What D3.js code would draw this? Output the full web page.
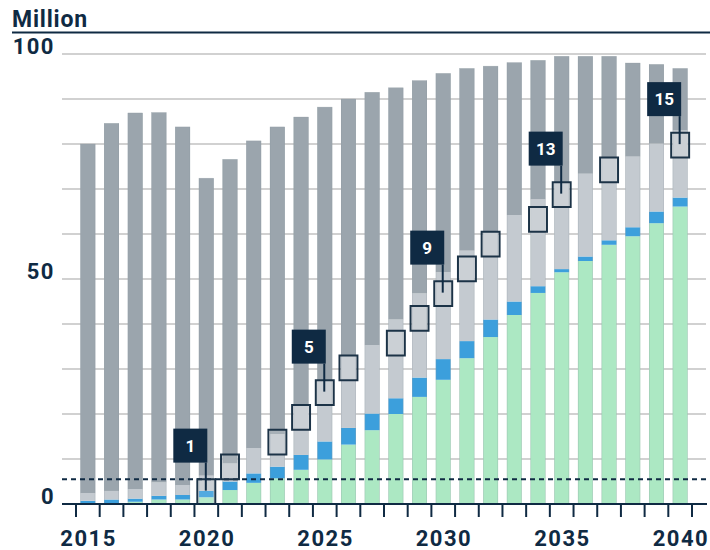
<!DOCTYPE html>
<html>
<head>
<meta charset="utf-8">
<script src="https://cdn.jsdelivr.net/npm/d3@7"></script>
<style>
    body { margin: 0; background: #fff; }
    text { font-family: Roboto, "Liberation Sans", sans-serif; }
</style>
</head>
<body>
<svg id="chart" width="710" height="550"></svg>
<script>
"use strict";

// Data (million), one value per year and segment
const years = d3.range(2015, 2041);
const green = [0, 0.2, 0.5, 1.0, 1.0, 1.5, 3.1, 4.7, 5.7, 7.6, 9.9, 13.2, 16.4, 20, 23.8, 27.6,
    32.4, 37.1, 42, 46.9, 51.5, 54, 57.6, 59.5, 62.4, 66.1];
const blue = [0.7, 0.8, 0.7, 0.8, 1.0, 1.4, 1.9, 2.1, 2.6, 3.3, 4.0, 3.7, 3.7, 3.5, 4.3, 4.6,
    3.8, 3.9, 3.0, 1.5, 0.7, 1.0, 1.0, 2.0, 2.6, 2.0];
const lightGray = [1.7, 1.9, 2.1, 3.0, 2.2, 3.4, 4.0, 5.6, 7.2, 11.1, 13.6, 16.1, 15.2, 17.5, 18.7, 19.3,
    20.1, 19.5, 19.2, 19.3, 19.3, 18.4, 18.4, 15.7, 15.1, 14.9];
const darkGray = [77.6, 81.7, 83.6, 82.2, 79.6, 66.1, 67.6, 68.3, 68.3, 64, 60.7, 57, 56.2, 51.5, 47.3, 44.2,
    40.5, 36.8, 33.9, 30.9, 28, 26.1, 22.5, 20.8, 17.6, 13.8];

// years that add one square, each square is one unit of this size
const squareYears = [2020, 2021, 2023, 2024, 2025, 2026, 2028, 2029, 2030, 2031, 2032, 2034, 2035, 2037, 2040];
const squareUnit = 5.5;
const calloutYears = [2020, 2025, 2030, 2035, 2040];
const calloutLabels = ["1", "5", "9", "13", "15"];

const yTicks = [0, 50, 100];
const yGrid = d3.range(0, 101, 10);
const yearLabels = [2015, 2020, 2025, 2030, 2035, 2040];

const NAVY = "#0f2a43";
const COLORS = { green: "#ace8c3", blue: "#3c9fdc", lightGray: "#c4cad0", darkGray: "#9ba5ad" };

const svg = d3.select("#chart");

const slot = d3.scaleBand().domain(years).range([76, 692]).padding(0);
const x = d3.scaleBand().domain(years).range([76, 692]).paddingInner(0.37).paddingOuter(0.185);
const y = d3.scaleLinear().domain([0, 100]).range([504, 54]);

// title + rule under it
svg.append("text")
    .attr("x", 12).attr("y", 27)
    .attr("font-size", 23).attr("font-weight", 700).attr("fill", NAVY)
    .attr("letter-spacing", 0.8)
    .text("Million");
svg.append("line")
    .attr("x1", 12).attr("x2", 710).attr("y1", 32.5).attr("y2", 32.5)
    .attr("stroke", NAVY).attr("stroke-width", 2);

// gridlines
svg.append("g").selectAll("line").data(yGrid.filter((d) => d > 0)).join("line")
    .attr("x1", 62).attr("x2", 706)
    .attr("y1", (d) => y(d)).attr("y2", (d) => y(d))
    .attr("stroke", "#c2c2c2").attr("stroke-width", 1.5);

// y labels
svg.append("g").selectAll("text").data(yTicks).join("text")
    .attr("x", 55).attr("y", (d) => y(d))
    .attr("text-anchor", "end")
    .attr("font-size", 22).attr("font-weight", 700).attr("fill", NAVY)
    .attr("letter-spacing", 1.5)
    .text((d) => d);

// stacked bars
const keys = ["green", "blue", "lightGray", "darkGray"];
const rows = years.map((yr, i) => ({
    year: yr, green: green[i], blue: blue[i], lightGray: lightGray[i], darkGray: darkGray[i],
}));
const stack = d3.stack().keys(keys)(rows);

svg.append("g").selectAll("g").data(stack).join("g")
    .attr("fill", (s) => COLORS[s.key])
    .selectAll("rect").data((s) => s).join("rect")
    .attr("x", (d) => x(d.data.year))
    .attr("width", x.bandwidth())
    .attr("y", (d) => y(d[1]))
    .attr("height", (d) => y(d[0]) - y(d[1]));

// thin outline around each whole bar
svg.append("g").selectAll("rect").data(rows).join("rect")
    .attr("x", (d) => x(d.year) + 0.25)
    .attr("width", x.bandwidth() - 0.5)
    .attr("y", (d) => y(d.green + d.blue + d.lightGray + d.darkGray))
    .attr("height", (d) => y(0) - y(d.green + d.blue + d.lightGray + d.darkGray))
    .attr("fill", "none").attr("stroke", "#8e99a2").attr("stroke-opacity", 0.5).attr("stroke-width", 0.5);

// dashed reference line (one square unit)
svg.append("line")
    .attr("x1", 62).attr("x2", 707)
    .attr("y1", y(squareUnit)).attr("y2", y(squareUnit))
    .attr("stroke", NAVY).attr("stroke-width", 2).attr("stroke-dasharray", "5,4");

// squares
const squares = squareYears.map((yr, i) => ({ year: yr, lo: i * squareUnit, hi: (i + 1) * squareUnit }));
svg.append("g").selectAll("rect").data(squares).join("rect")
    .attr("x", (d) => x(d.year) - 1.5)
    .attr("width", x.bandwidth() + 3)
    .attr("y", (d) => y(d.hi))
    .attr("height", (d) => y(d.lo) - y(d.hi))
    .attr("fill", "#ffffff").attr("fill-opacity", 0.12)
    .attr("stroke", "#1c3347").attr("stroke-width", 2);

// x axis: baseline, ticks, labels
svg.append("line")
    .attr("x1", 62).attr("x2", 707).attr("y1", y(0)).attr("y2", y(0))
    .attr("stroke", NAVY).attr("stroke-width", 2);
const tickPos = years.map((yr) => slot(yr)).concat([slot.range()[1]]);
svg.append("g").selectAll("line").data(tickPos).join("line")
    .attr("x1", (d) => d).attr("x2", (d) => d)
    .attr("y1", y(0)).attr("y2", y(0) + 13)
    .attr("stroke", NAVY).attr("stroke-width", 2);
svg.append("g").selectAll("text").data(yearLabels).join("text")
    .attr("x", (d) => x(d) + x.bandwidth() / 2 + 0.75)
    .attr("y", 546)
    .attr("text-anchor", "middle")
    .attr("font-size", 22).attr("font-weight", 700).attr("fill", NAVY)
    .attr("letter-spacing", 1.5)
    .text((d) => d);

// callouts with the running count of squares
const callouts = calloutYears.map((yr, i) => {
    const n = squareYears.indexOf(yr) + 1;
    return { year: yr, label: calloutLabels[i], mid: (n - 0.5) * squareUnit };
});
const boxSize = 34;
const cg = svg.append("g").selectAll("g").data(callouts).join("g")
    .attr("transform", (d) => `translate(${x(d.year) + x.bandwidth() / 2},${y(d.mid)})`);
cg.append("line")
    .attr("x1", -0.5).attr("x2", -0.5).attr("y1", -29).attr("y2", -1)
    .attr("stroke", NAVY).attr("stroke-width", 2);
cg.append("rect")
    .attr("x", -boxSize + 1).attr("y", -29 - boxSize)
    .attr("width", boxSize).attr("height", boxSize)
    .attr("fill", NAVY);
cg.append("text")
    .attr("x", -boxSize / 2 + 1).attr("y", -29 - boxSize / 2 + 6)
    .attr("text-anchor", "middle")
    .attr("font-size", 17).attr("font-weight", 700).attr("fill", "#fff")
    .text((d) => d.label);
</script>
</body>
</html>
